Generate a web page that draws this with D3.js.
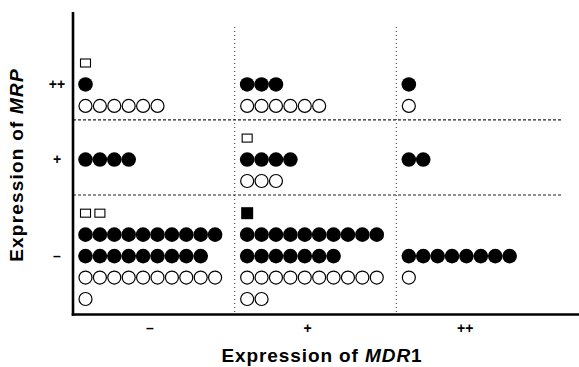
<!DOCTYPE html>
<html>
<head>
<meta charset="utf-8">
<script src="https://cdn.jsdelivr.net/npm/d3@7"></script>
<style>
  body { margin: 0; background: #fff; }
  svg { display: block; }
  text { font-family: "Liberation Sans", Arial, sans-serif; fill: #000; }
</style>
</head>
<body>
<svg id="chart" width="579" height="367"></svg>
<script>
// categories
const mdrLevels = ["–", "+", "++"];
const mrpLevels = ["++", "+", "–"];
// rows of dots in each MRP band
const bandRows = [3, 3, 5];

// [MDR1, MRP, row in band, count]
const openSquares = [["–", "++", 0, 1], ["+", "+", 0, 1], ["–", "–", 0, 2]];
const filledSquares = [["+", "–", 0, 1]];
const filledCircles = [
  ["–", "++", 1, 1], ["+", "++", 1, 3], ["++", "++", 1, 1],
  ["–", "+", 1, 4], ["+", "+", 1, 4], ["++", "+", 1, 2],
  ["–", "–", 1, 10], ["–", "–", 2, 9],
  ["+", "–", 1, 10], ["+", "–", 2, 7],
  ["++", "–", 2, 8]
];
const openCircles = [
  ["–", "++", 2, 6], ["+", "++", 2, 6], ["++", "++", 2, 1],
  ["+", "+", 2, 3],
  ["–", "–", 3, 10], ["–", "–", 4, 1],
  ["+", "–", 3, 10], ["+", "–", 4, 2],
  ["++", "–", 3, 1]
];

const svg = d3.select("#chart");
const left = 73, right = 558, axisY = 314.5;

// where each band starts in "row units" (half a row of gap between bands)
const bandStart = {};
let acc = 0;
mrpLevels.forEach((m, i) => { bandStart[m] = acc; acc += bandRows[i] + 0.5; });
const lastRow = acc - 1.5;

const x = d3.scaleBand().domain(mdrLevels).range([left, right]);
const slot = d3.scaleLinear().domain([0, 1]).range([12.5, 26.9]);
const row = d3.scaleLinear().domain([0, lastRow]).range([63, 299]);

const px = (d, i) => x(d[0]) + slot(i);
const py = d => row(bandStart[d[1]] + d[2]);

// grid: dotted verticals, dashed horizontals
svg.append("g").selectAll("line")
  .data(mdrLevels.slice(1))
  .join("line")
  .attr("x1", d => x(d)).attr("x2", d => x(d))
  .attr("y1", 27).attr("y2", axisY)
  .attr("stroke", "#333").attr("stroke-width", 1)
  .attr("stroke-dasharray", "1,3");

svg.append("g").selectAll("line")
  .data(mrpLevels.slice(1))
  .join("line")
  .attr("x1", left).attr("x2", 562)
  .attr("y1", d => row(bandStart[d] - 0.85)).attr("y2", d => row(bandStart[d] - 0.85))
  .attr("stroke", "#222").attr("stroke-width", 1.1)
  .attr("stroke-dasharray", "3,2");

// expand each row into single marks
function expand(rows) {
  const out = [];
  rows.forEach(r => { for (let i = 0; i < r[3]; i++) out.push({ r, i }); });
  return out;
}

const marks = svg.append("g");

marks.selectAll(".fc").data(expand(filledCircles)).join("circle")
  .attr("class", "fc")
  .attr("cx", d => px(d.r, d.i)).attr("cy", d => py(d.r))
  .attr("r", 7.3).attr("fill", "#000");

marks.selectAll(".oc").data(expand(openCircles)).join("circle")
  .attr("class", "oc")
  .attr("cx", d => px(d.r, d.i)).attr("cy", d => py(d.r))
  .attr("r", 6.5).attr("fill", "none").attr("stroke", "#000").attr("stroke-width", 1.2);

marks.selectAll(".os").data(expand(openSquares)).join("rect")
  .attr("class", "os")
  .attr("x", d => px(d.r, d.i) - 5).attr("y", d => py(d.r) - 4)
  .attr("width", 10).attr("height", 8)
  .attr("fill", "none").attr("stroke", "#000").attr("stroke-width", 1.1);

marks.selectAll(".fs").data(expand(filledSquares)).join("rect")
  .attr("class", "fs")
  .attr("x", d => px(d.r, d.i) - 6).attr("y", d => py(d.r) - 6)
  .attr("width", 12).attr("height", 12)
  .attr("fill", "#000");

// axes
svg.append("line")
  .attr("x1", left).attr("x2", left).attr("y1", 12).attr("y2", axisY + 1.2)
  .attr("stroke", "#000").attr("stroke-width", 2.6);
svg.append("line")
  .attr("x1", left - 1.3).attr("x2", 579).attr("y1", axisY).attr("y2", axisY)
  .attr("stroke", "#000").attr("stroke-width", 2.6);

// tick labels
svg.append("g").selectAll("text")
  .data(mrpLevels)
  .join("text")
  .attr("x", 57)
  .attr("y", (d, i) => row(bandStart[d] + (bandRows[i] - 1) / 2))
  .attr("dy", "0.35em")
  .attr("text-anchor", "middle")
  .attr("font-size", 14).attr("font-weight", "bold")
  .text(d => d);

svg.append("g").selectAll("text")
  .data(mdrLevels)
  .join("text")
  .attr("x", (d, i) => x(d) + x.bandwidth() / 2 - 4 - 4 * i)
  .attr("y", 328)
  .attr("dy", "0.35em")
  .attr("text-anchor", "middle")
  .attr("font-size", 14).attr("font-weight", "bold")
  .text(d => d);

// axis titles
const xt = svg.append("text")
  .attr("x", 322).attr("y", 362)
  .attr("text-anchor", "middle")
  .attr("font-size", 19).attr("font-weight", "bold")
  .attr("letter-spacing", 0.9);
xt.append("tspan").text("Expression of ");
xt.append("tspan").attr("font-style", "italic").text("MDR");
xt.append("tspan").text("1");

const yt = svg.append("text")
  .attr("transform", "translate(23,165) rotate(-90)")
  .attr("text-anchor", "middle")
  .attr("font-size", 19).attr("font-weight", "bold")
  .attr("letter-spacing", 1.2);
yt.append("tspan").text("Expression of ");
yt.append("tspan").attr("font-style", "italic").text("MRP");
</script>
</body>
</html>
